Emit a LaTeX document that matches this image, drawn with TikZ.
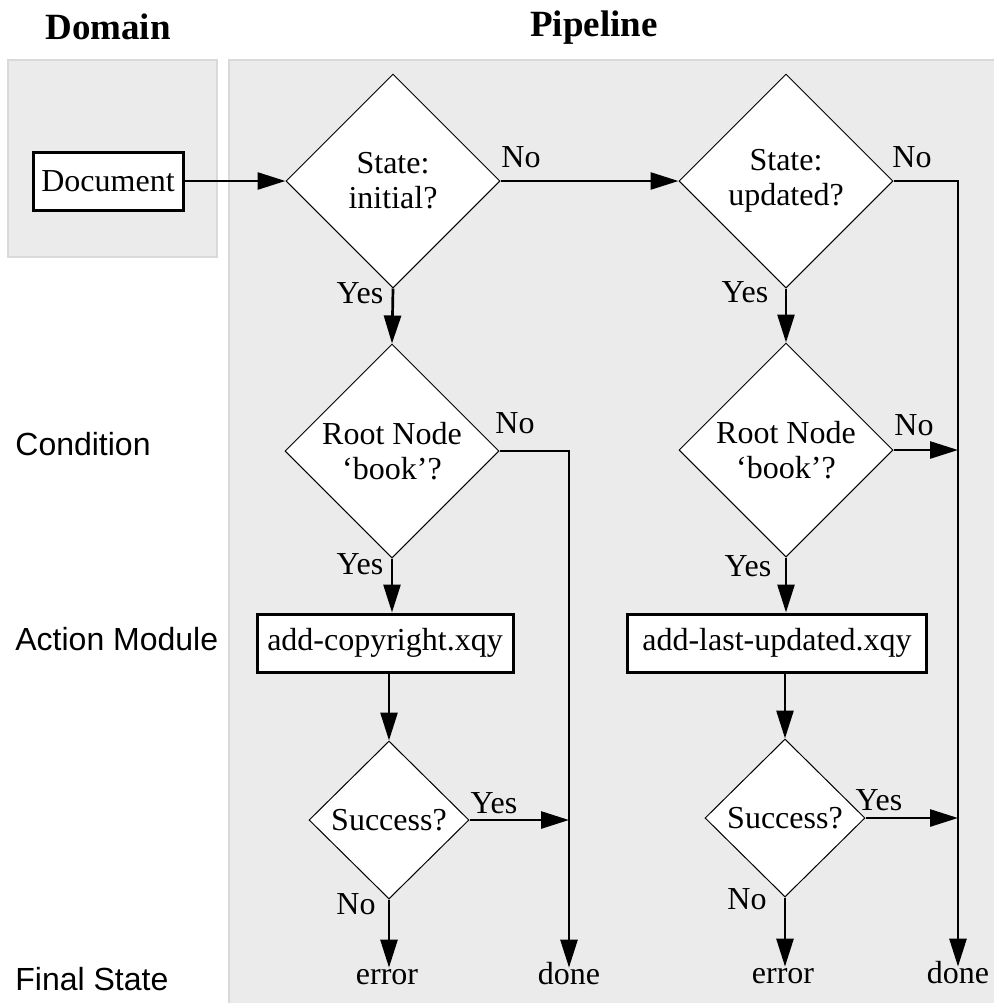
\documentclass[tikz,border=0pt]{standalone}
\usepackage{fontspec}
\setmainfont{Liberation Serif}
\setsansfont{Liberation Sans}
\usetikzlibrary{shapes.geometric}
\usetikzlibrary{arrows.meta}
\definecolor{lanegray}{HTML}{EBEBEB}
\definecolor{laneedge}{HTML}{D9D9D9}
\tikzset{
	lane/.style = {
		fill=lanegray,
		draw=laneedge,
		line width=1pt
	},
	heading/.style = {
		font=\fontsize{18.5}{20}\selectfont\bfseries
	},
	rowlabel/.style = {
		anchor=base west,
		inner sep=0pt,
		font=\fontsize{16}{18}\selectfont\sffamily
	},
	node_q/.style = {
		diamond,
		aspect=1,
		align=center,
		inner sep=0pt,
		draw=black,
		fill=white,
		line width=0.5pt,
		minimum width=107pt,
		minimum height=107pt,
		font=\fontsize{16}{17.5}\selectfont
	},
	node_q_small/.style = {
		node_q,
		minimum width=80pt,
		minimum height=79pt
	},
	node_box/.style = {
		rectangle,
		draw=black,
		fill=white,
		line width=1.5pt,
		inner sep=0pt,
		minimum height=29pt,
		font=\fontsize{16}{17}\selectfont
	},
	node_end/.style = {
		anchor=base,
		inner sep=1pt,
		text height=0.7em,
		text depth=0.2em,
		font=\fontsize{16}{17}\selectfont
	},
	yesno/.style = {
		font=\fontsize{16}{17}\selectfont
	},
	flow/.style = {
		line width=1.35pt,
		-{Triangle[length=14pt,width=8.5pt]}
	}
}

\begin{document}
\begin{tikzpicture}[x=0.5pt, y=-0.5pt]
\useasboundingbox (0,0) rectangle (993,1003);

% lanes
\fill[lane] (8,60) rectangle (217,257);
\fill[lane] (229,60) rectangle (1000,1010);
\node[heading] (t_domain) at (108,27) {Domain};
\node[heading] (t_pipe) at (594,28) {Pipeline};

\node[rowlabel] (l_cond) at (15,455) {Condition};
\node[rowlabel] (l_act) at (15,650) {Action Module};
\node[rowlabel] (l_final) at (15,990) {Final State};

% nodes
\node[node_box, minimum width=75pt] (doc) at (108,181) {Document};

\node[node_q] (q1) at (393,181) {State:\\initial?};
\node[node_q] (q2) at (786,181) {State:\\updated?};
\node[node_q] (q3) at (392,451) {Root Node\\`book'?};
\node[node_q] (q4) at (786,450) {Root Node\\`book'?};

\node[node_box, minimum width=128pt] (act1) at (385,643) {add-copyright.xqy};
\node[node_box, minimum width=149.5pt] (act2) at (777,643) {add-last-updated.xqy};

\node[node_q_small] (q5) at (389,820) {Success?};
\node[node_q_small] (q6) at (785,818) {Success?};

\node[node_end] (err1) at (387,984) {error};
\node[node_end] (done1) at (569,984) {done};
\node[node_end] (err2) at (783,983) {error};
\node[node_end] (done2) at (958,983) {done};

% yes / no
\node[yesno] (n1) at (521,157) {No};
\node[yesno] (n2) at (912,157) {No};
\node[yesno] (y1) at (360,293) {Yes};
\node[yesno] (y2) at (745,292) {Yes};
\node[yesno] (n3) at (515,423) {No};
\node[yesno] (n4) at (914,425) {No};
\node[yesno] (y3) at (360,564) {Yes};
\node[yesno] (y4) at (748,566) {Yes};
\node[yesno] (y5) at (494,803) {Yes};
\node[yesno] (y6) at (879,800) {Yes};
\node[yesno] (n5) at (356,904) {No};
\node[yesno] (n6) at (747,899) {No};

% connectors
\draw[flow] (doc.east) -- (q1.west);
\draw[flow] (q1.east) -- (q2.west);
\draw[flow] (q1.south) -- (q3.north);
\draw[flow] (q2.south) -- (q4.north);
\draw[flow] (q2.east) -| (done2.north);
\draw[flow] (q3.east) -| (done1.north);
\draw[flow] (q4.east) -- (q4.east -| done2.north);
\draw[flow] (q3.south) -- (q3.south |- act1.north);
\draw[flow] (q4.south) -- (q4.south |- act2.north);
\draw[flow] (q5.north |- act1.south) -- (q5.north);
\draw[flow] (q6.north |- act2.south) -- (q6.north);
\draw[flow] (q5.east) -- (q5.east -| done1.north);
\draw[flow] (q6.east) -- (q6.east -| done2.north);
\draw[flow] (q5.south) -- (q5.south |- err1.north);
\draw[flow] (q6.south) -- (q6.south |- err2.north);
\end{tikzpicture}
\end{document}
